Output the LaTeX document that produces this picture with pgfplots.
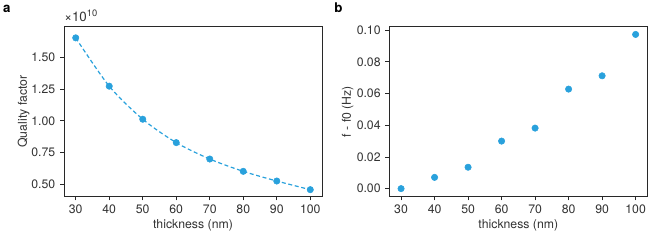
\documentclass[border=0pt]{standalone}
\usepackage{fontspec}
\setmainfont{TeX Gyre Heros}
\usepackage{pgfplots}
\pgfplotsset{compat=1.18}
\definecolor{dotblue}{RGB}{41,161,220}
\definecolor{txtgray}{RGB}{50,50,50}
\definecolor{framegray}{RGB}{40,40,40}
\pgfplotsset{
  myaxis/.style={
    scale only axis,
    width=193.5pt, height=127.3pt,
    axis line style={framegray, line width=0.7pt},
    tick style={framegray, line width=0.6pt},
    tick align=outside,
    tick pos=left,
    major tick length=3pt,
    xmin=26.5, xmax=103.5,
    xtick={30,40,...,100},
    /pgf/number format/assume math mode=true,
    ticklabel style={font=\fontsize{9.2}{10}\selectfont, text=txtgray},
    label style={font=\fontsize{9.2}{10}\selectfont, text=txtgray},
    xlabel={thickness (nm)},
    xlabel style={yshift=2.5pt},
  }
}
\begin{document}
\begin{tikzpicture}
\path (0,0) rectangle (498pt,180pt);
\node[anchor=base west, inner sep=0pt, font=\fontsize{10}{11}\selectfont\bfseries] at (2.2pt,171pt) {a};
\node[anchor=base west, inner sep=0pt, font=\fontsize{10}{11}\selectfont\bfseries] at (250.5pt,171pt) {b};
\begin{axis}[myaxis,
  at={(48pt,32.7pt)}, anchor=south west,
  ymin=0.405, ymax=1.74,
  ytick={0.5,0.75,1.0,1.25,1.5},
  yticklabel style={/pgf/number format/.cd, fixed, fixed zerofill, precision=2},
  ylabel={Quality factor},
  ylabel style={yshift=-5.5pt},
  clip=false,
]
\addplot[dotblue, densely dashed, line width=0.9pt, smooth, tension=0.5] coordinates {
(30,1.652) (40,1.272) (50,1.012) (60,0.828) (70,0.699) (80,0.602) (90,0.526) (100,0.458)};
\addplot[only marks, mark=*, mark size=2.4pt, mark options={draw=dotblue, fill=dotblue}] coordinates {
(30,1.652) (40,1.272) (50,1.012) (60,0.828) (70,0.699) (80,0.602) (90,0.526) (100,0.458)};
\node[anchor=south west, inner sep=0pt, font=\fontsize{10}{11}\selectfont, text=txtgray] at (rel axis cs:0.0,1.03) {×10\textsuperscript{10}};
\end{axis}
\begin{axis}[myaxis,
  at={(292pt,32.7pt)}, anchor=south west,
  ymin=-0.0049, ymax=0.1022,
  ytick={0,0.02,0.04,0.06,0.08,0.1},
  yticklabel style={/pgf/number format/.cd, fixed, fixed zerofill, precision=2},
  ylabel={f - f0 (Hz)},
  ylabel style={yshift=-4.5pt},
]
\addplot[only marks, mark=*, mark size=2.4pt, mark options={draw=dotblue, fill=dotblue}] coordinates {
(30,0.0000) (40,0.0071) (50,0.0135) (60,0.0300) (70,0.0382) (80,0.0628) (90,0.0712) (100,0.0973)};
\end{axis}
\end{tikzpicture}
\end{document}
